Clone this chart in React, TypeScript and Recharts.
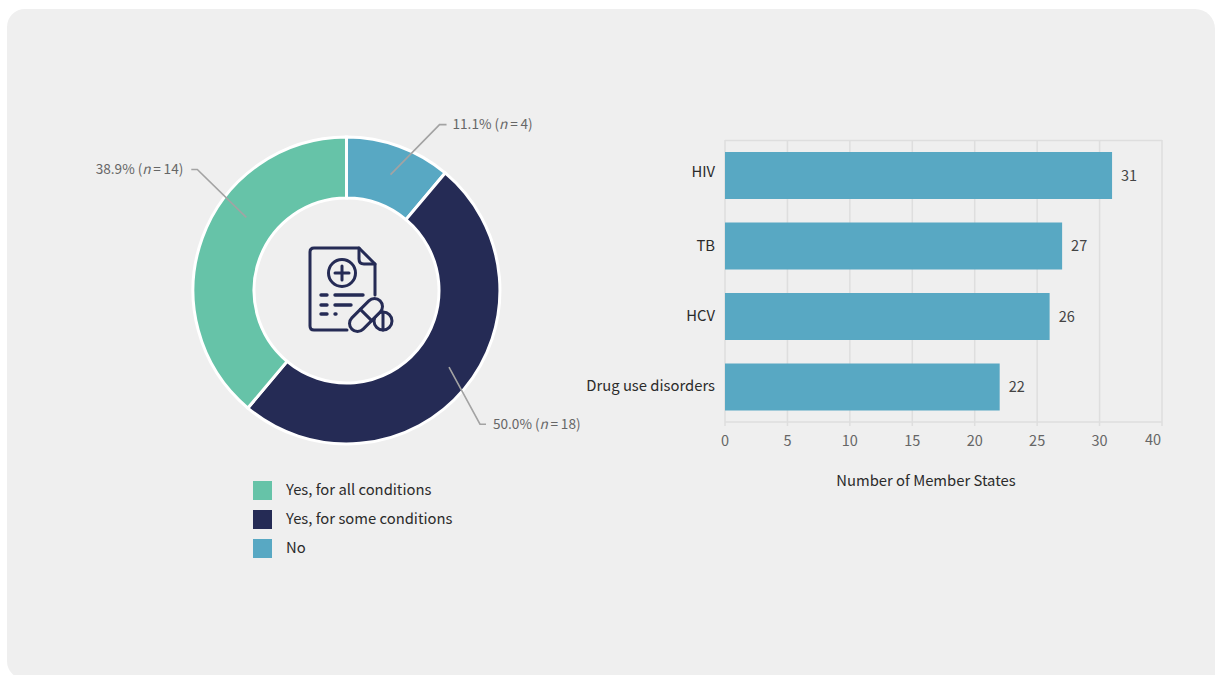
import { BarChart, Bar, CartesianGrid, Cell, LabelList, Legend, Pie, PieChart, XAxis, YAxis } from "recharts"

const FONT = "'Noto Sans CJK SC', 'Noto Sans', sans-serif"
const PANEL = "#EFEFEF"

// Donut: do the Member States cover these conditions?
const responses = ["No", "Yes, for some conditions", "Yes, for all conditions"]
const responseCounts = [4, 18, 14]
const responseColors = ["#58A8C3", "#252B55", "#66C3A8"]
const legendOrder = ["Yes, for all conditions", "Yes, for some conditions", "No"]

// Bars: Member States per condition
const conditions = ["HIV", "TB", "HCV", "Drug use disorders"]
const memberStates = [31, 27, 26, 22]
const xTicks = [0, 5, 10, 15, 20, 25, 30, 35]
const xTickLabels = ["0", "5", "10", "15", "20", "25", "30", "40"]

const pieData = responses.map((name, i) => ({ name, value: responseCounts[i], fill: responseColors[i] }))
const barData = conditions.map((name, i) => ({ name, value: memberStates[i] }))
const total = responseCounts.reduce((a, b) => a + b, 0)

// Leader line for each slice: where it starts in the ring, then elbow and tail
const leaders = [
  { angle: 20.8, r: 124, dx: 49, dy: -50, tail: 7, gap: 6, anchor: "start" },
  { angle: 126.8, r: 128, dx: 31, dy: 57, tail: 6, gap: 7, anchor: "start" },
  { angle: -53.9, r: 124, dx: -49, dy: -48, tail: -6, gap: -8, anchor: "end" },
]

// Small vertical nudges for the category labels
const yTickNudge = [-3, 0, 0, -1]

function LeaderLabel(props: any) {
  const { cx, cy, index, value } = props
  const l = leaders[index]
  const rad = (l.angle * Math.PI) / 180
  const x0 = cx + l.r * Math.sin(rad)
  const y0 = cy - l.r * Math.cos(rad)
  const x1 = x0 + l.dx
  const y1 = y0 + l.dy
  const x2 = x1 + l.tail
  const pct = ((value / total) * 100).toFixed(1)
  return (
    <g>
      <polyline points={`${x0},${y0} ${x1},${y1} ${x2},${y1}`} fill="none" stroke="#A3A3A3" strokeWidth={1.6} />
      <text x={x2 + l.gap} y={y1 + 4.5} textAnchor={l.anchor} fontSize={13.6} fill="#666" fontFamily={FONT}>
        {`${pct}% (`}
        <tspan fontStyle="italic">n</tspan>
        {`\u2009=\u2009${value})`}
      </text>
    </g>
  )
}

function ResponseLegend({ payload }: any) {
  const items = legendOrder.map((name) => (payload ?? []).find((p: any) => p.value === name)).filter(Boolean)
  return (
    <div style={{ fontFamily: FONT, fontSize: 14.8, color: "#2B2B2B" }}>
      {items.map((item: any) => (
        <div key={item.value} style={{ display: "flex", alignItems: "center", height: 19, marginBottom: 10 }}>
          <span style={{ width: 19, height: 19, background: item.payload?.fill ?? item.color, marginRight: 14 }} />
          <span style={{ position: "relative", top: -2 }}>{item.value}</span>
        </div>
      ))}
    </div>
  )
}

// The last tick sits on the frame, so its label is pulled inside it
function XTick({ x, y, index }: any) {
  const last = index === xTicks.length - 1
  return (
    <text x={last ? x - 1 : x} y={last ? y + 15 : y + 16} textAnchor={last ? "end" : "middle"} fontSize={14.5} fill="#666" fontFamily={FONT}>
      {xTickLabels[index]}
    </text>
  )
}

function YTick({ x, y, index, payload }: any) {
  return (
    <text x={x} y={y + 5 + yTickNudge[index]} textAnchor="end" fontSize={14.8} fill="#2B2B2B" fontFamily={FONT}>
      {payload.value}
    </text>
  )
}

// Prescription sheet and capsules in the middle of the donut
function RecordIcon() {
  return (
    <g fill="none" stroke="#252B55" strokeWidth={3} strokeLinecap="round" strokeLinejoin="round">
      <path d="M347 330 H314 Q310 330 310 326 V252 Q310 248 314 248 H359 L375 264 V295" />
      <path d="M359 248 V259 Q359 264 364 264 H375" />
      <circle cx={342} cy={273} r={13.5} />
      <path d="M342 266 V280 M335 273 H349" />
      <path strokeWidth={3.4} d="M321 295 H327 M335 295 H363 M321 305 H327 M335 305 H351 M321 314 H327 M335 314 H336" />
      <circle cx={383} cy={321} r={9} />
      <path d="M383 312 V330" />
      <g transform="rotate(-45 366 315)">
        <rect x={346} y={307} width={40} height={16} rx={8} fill={PANEL} />
        <path d="M366 307 V323" />
      </g>
    </g>
  )
}

export default function App() {
  return (
    <div style={{ position: "fixed", inset: 0, width: 1215, height: 675, overflow: "hidden", background: "#fff" }}>
      <div
        style={{
          position: "absolute",
          left: 7,
          top: 9,
          width: 1208,
          height: 670,
          borderRadius: "18px 20px 0 18px",
          background: PANEL,
        }}
      />

      <div style={{ position: "absolute", left: 0, top: 0 }}>
        <PieChart width={640} height={640} margin={{ top: 0, right: 0, bottom: 0, left: 0 }}>
          <Pie
            data={pieData}
            dataKey="value"
            nameKey="name"
            cx={346.5}
            cy={290.5}
            innerRadius={92.5}
            outerRadius={153.5}
            startAngle={90}
            endAngle={-270}
            stroke="#fff"
            strokeWidth={3}
            label={LeaderLabel}
            labelLine={false}
            isAnimationActive={false}
          >
            {pieData.map((d) => (
              <Cell key={d.name} fill={d.fill} />
            ))}
          </Pie>
          <RecordIcon />
          <Legend
            content={ResponseLegend}
            layout="vertical"
            wrapperStyle={{ position: "absolute", left: 253, top: 481, width: 260, bottom: "auto" }}
          />
        </PieChart>
      </div>

      <div style={{ position: "absolute", left: 560, top: 100 }}>
        <BarChart
          layout="vertical"
          width={640}
          height={420}
          data={barData}
          margin={{ top: 40, right: 38, bottom: 0, left: 0 }}
        >
          <CartesianGrid stroke="#DEDEDE" strokeWidth={1.5} horizontalPoints={[40.5]} />
          <XAxis
            type="number"
            domain={[0, 35]}
            ticks={xTicks}
            interval={0}
            height={98}
            stroke="#DEDEDE"
            strokeWidth={1.5}
            tickSize={4}
            tickMargin={4}
            tick={<XTick />}
            label={{
              value: "Number of Member States",
              position: "insideTop",
              offset: 53,
              dx: -17.5,
              fill: "#2B2B2B",
              fontSize: 14.8,
              fontFamily: FONT,
            }}
          />
          <YAxis
            type="category"
            dataKey="name"
            width={165}
            axisLine={false}
            tickLine={false}
            tickSize={0}
            tickMargin={10}
            interval={0}
            tick={<YTick />}
          />
          <Bar dataKey="value" fill="#58A8C3" barSize={47} isAnimationActive={false}>
            <LabelList dataKey="value" position="right" offset={9} fill="#444" fontSize={14.5} fontFamily={FONT} />
          </Bar>
        </BarChart>
      </div>
    </div>
  )
}
